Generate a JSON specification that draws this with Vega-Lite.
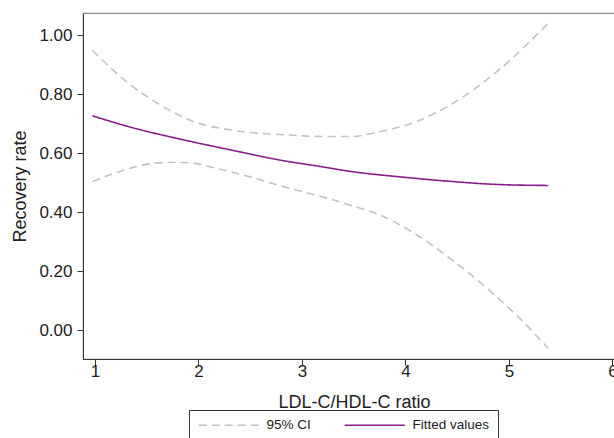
{
  "$schema": "https://vega.github.io/schema/vega-lite/v6.json",
  "width": 542,
  "height": 346,
  "autosize": {"type": "none"},
  "padding": {"left": 83, "top": 13, "right": 0, "bottom": 79},
  "background": "white",
  "config": {
    "font": "Liberation Sans",
    "view": {"stroke": "#8a8a8a", "strokeWidth": 1.2},
    "axis": {"grid": false, "domainColor": "#333", "tickColor": "#333", "labelColor": "#222", "titleColor": "#222", "labelFont": "Liberation Sans", "titleFont": "Liberation Sans", "titleFontWeight": "normal"}
  },
  "data": {
    "values": [
      {"x": 0.975, "y": 0.726, "line": "fit", "series": "Fitted values"},
      {"x": 1.37, "y": 0.685, "line": "fit", "series": "Fitted values"},
      {"x": 1.85, "y": 0.645, "line": "fit", "series": "Fitted values"},
      {"x": 2.33, "y": 0.609, "line": "fit", "series": "Fitted values"},
      {"x": 2.82, "y": 0.574, "line": "fit", "series": "Fitted values"},
      {"x": 3.2, "y": 0.553, "line": "fit", "series": "Fitted values"},
      {"x": 3.46, "y": 0.538, "line": "fit", "series": "Fitted values"},
      {"x": 3.95, "y": 0.519, "line": "fit", "series": "Fitted values"},
      {"x": 4.43, "y": 0.504, "line": "fit", "series": "Fitted values"},
      {"x": 4.91, "y": 0.493, "line": "fit", "series": "Fitted values"},
      {"x": 5.38, "y": 0.49, "line": "fit", "series": "Fitted values"},
      {"x": 0.975, "y": 0.948, "line": "upper", "series": "95% CI"},
      {"x": 1.3, "y": 0.843, "line": "upper", "series": "95% CI"},
      {"x": 1.625, "y": 0.764, "line": "upper", "series": "95% CI"},
      {"x": 1.947, "y": 0.707, "line": "upper", "series": "95% CI"},
      {"x": 2.33, "y": 0.677, "line": "upper", "series": "95% CI"},
      {"x": 2.82, "y": 0.662, "line": "upper", "series": "95% CI"},
      {"x": 3.2, "y": 0.656, "line": "upper", "series": "95% CI"},
      {"x": 3.49, "y": 0.656, "line": "upper", "series": "95% CI"},
      {"x": 3.69, "y": 0.668, "line": "upper", "series": "95% CI"},
      {"x": 4.11, "y": 0.707, "line": "upper", "series": "95% CI"},
      {"x": 4.59, "y": 0.798, "line": "upper", "series": "95% CI"},
      {"x": 4.98, "y": 0.905, "line": "upper", "series": "95% CI"},
      {"x": 5.38, "y": 1.04, "line": "upper", "series": "95% CI"},
      {"x": 0.975, "y": 0.503, "line": "lower", "series": "95% CI"},
      {"x": 1.21, "y": 0.534, "line": "lower", "series": "95% CI"},
      {"x": 1.46, "y": 0.559, "line": "lower", "series": "95% CI"},
      {"x": 1.72, "y": 0.568, "line": "lower", "series": "95% CI"},
      {"x": 1.91, "y": 0.567, "line": "lower", "series": "95% CI"},
      {"x": 2.17, "y": 0.548, "line": "lower", "series": "95% CI"},
      {"x": 2.49, "y": 0.52, "line": "lower", "series": "95% CI"},
      {"x": 2.82, "y": 0.486, "line": "lower", "series": "95% CI"},
      {"x": 3.17, "y": 0.454, "line": "lower", "series": "95% CI"},
      {"x": 3.46, "y": 0.424, "line": "lower", "series": "95% CI"},
      {"x": 3.79, "y": 0.384, "line": "lower", "series": "95% CI"},
      {"x": 4.11, "y": 0.322, "line": "lower", "series": "95% CI"},
      {"x": 4.43, "y": 0.243, "line": "lower", "series": "95% CI"},
      {"x": 4.75, "y": 0.153, "line": "lower", "series": "95% CI"},
      {"x": 5.07, "y": 0.051, "line": "lower", "series": "95% CI"},
      {"x": 5.38, "y": -0.062, "line": "lower", "series": "95% CI"}
    ]
  },
  "mark": {"type": "line", "interpolate": "monotone", "strokeWidth": 1.6},
  "encoding": {
    "x": {
      "field": "x", "type": "quantitative",
      "scale": {"domain": [0.884, 6.121], "nice": false, "zero": false},
      "axis": {"values": [1, 2, 3, 4, 5, 6], "format": "d", "title": "LDL-C/HDL-C ratio", "labelFontSize": 17, "titleFontSize": 18, "tickSize": 6, "labelPadding": -2, "titlePadding": 14, "labelFlush": false}
    },
    "y": {
      "field": "y", "type": "quantitative",
      "scale": {"domain": [-0.0983, 1.0746], "nice": false, "zero": false},
      "axis": {"values": [0, 0.2, 0.4, 0.6, 0.8, 1.0], "format": ".2f", "title": "Recovery rate", "labelFontSize": 17, "titleFontSize": 18, "tickSize": 6, "labelPadding": 5, "titlePadding": 9}
    },
    "detail": {"field": "line"},
    "color": {
      "field": "series", "type": "nominal",
      "scale": {"domain": ["95% CI", "Fitted values"], "range": ["#c2c2c2", "#8a1c8c"]},
      "legend": {"title": null, "orient": "none", "legendX": 106, "legendY": 397, "direction": "horizontal", "strokeColor": "#333", "padding": 8, "symbolType": "M-6,0H6", "symbolSize": 100, "symbolOffset": 25, "symbolStrokeWidth": 1.5, "labelFontSize": 13.5, "labelFont": "Liberation Sans", "labelColor": "#222", "columnPadding": 30, "labelOffset": 31}
    },
    "strokeDash": {
      "field": "series", "type": "nominal",
      "scale": {"domain": ["95% CI", "Fitted values"], "range": [[8, 5], [1, 0]]},
      "legend": {"title": null, "orient": "none", "legendX": 106, "legendY": 397, "direction": "horizontal", "strokeColor": "#333", "padding": 8, "symbolType": "M-6,0H6", "symbolSize": 100, "symbolOffset": 25, "symbolStrokeWidth": 1.5, "labelFontSize": 13.5, "labelFont": "Liberation Sans", "labelColor": "#222", "columnPadding": 30, "labelOffset": 31}
    }
  }
}
